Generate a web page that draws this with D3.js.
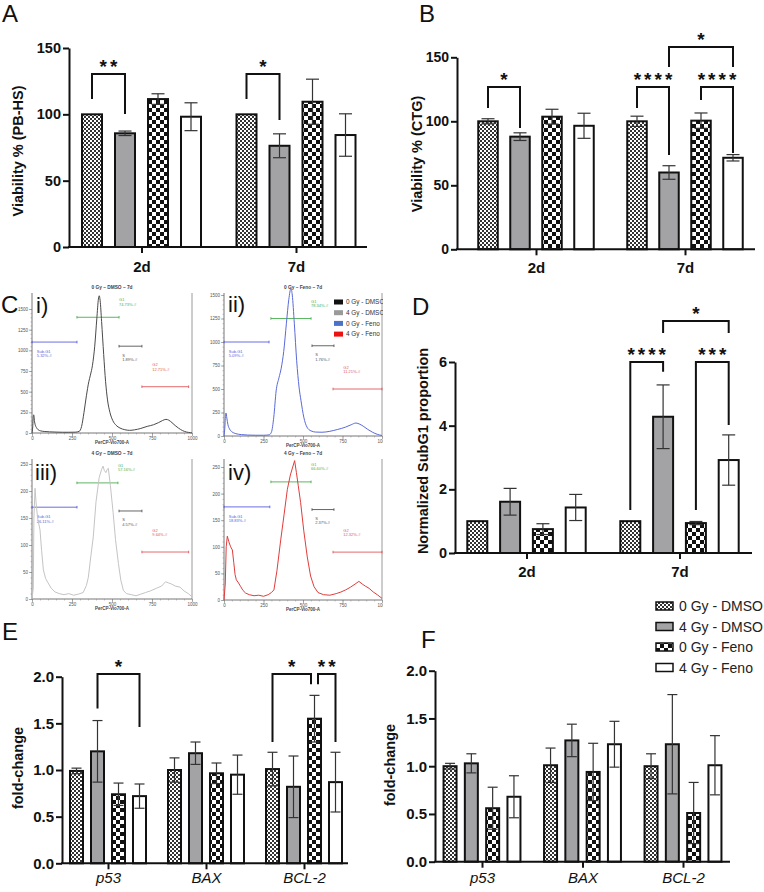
<!DOCTYPE html>
<html>
<head>
<meta charset="utf-8">
<script src="https://cdn.jsdelivr.net/npm/d3@7"></script>
<style>
  body { margin: 0; background: #fff; }
  svg { display: block; }
  text { font-family: "Liberation Sans", Arial, sans-serif; }
</style>
</head>
<body>
<svg id="fig" width="764" height="892"></svg>
<script>
// ---- data ----
const series = ["0 Gy - DMSO", "4 Gy - DMSO", "0 Gy - Feno", "4 Gy - Feno"];
const days = ["2d", "7d"];
const genes = ["p53", "BAX", "BCL-2"];

const pbhsMean = [[100, 85.7, 111.5, 98.2], [100, 76.3, 109.5, 84.4]];
const pbhsSem = [[0, 1.7, 4, 10.5], [0, 9, 17, 16]];
const ctgMean = [[100, 88, 103.6, 96.5], [100, 60, 100.5, 71.5]];
const ctgSem = [[2, 3, 5.8, 9.8], [4, 5.3, 6, 2.5]];
const subG1Mean = [[1, 1.61, 0.75, 1.43], [1, 4.28, 0.94, 2.92]];
const subG1Sem = [[0, 0.42, 0.17, 0.41], [0, 1.0, 0.05, 0.79]];
const foldEMean = [[0.99, 1.2, 0.74, 0.72], [1.0, 1.18, 0.965, 0.95], [1.01, 0.82, 1.55, 0.87]];
const foldESem = [[0.03, 0.33, 0.12, 0.13], [0.13, 0.12, 0.11, 0.21], [0.18, 0.33, 0.25, 0.32]];
const foldFMean = [[1.0, 1.03, 0.56, 0.68], [1.01, 1.27, 0.94, 1.23], [1.0, 1.23, 0.51, 1.01]];
const foldFSem = [[0.03, 0.1, 0.22, 0.22], [0.18, 0.17, 0.3, 0.24], [0.13, 0.52, 0.32, 0.31]];

const viabTicks = [0, 50, 100, 150];
const subG1Ticks = [0, 2, 4, 6];
const foldTicks = [0, 0.5, 1, 1.5, 2];

// significance: [category, bar from, bar to, top, left leg end, right leg end, stars]
const pbhsSig = [[0, 0, 1, 130.4, 111.5, 100.2, "**"], [1, 0, 1, 130.4, 111.5, 95.7, "*"]];
const ctgSig = [[0, 0, 1, 126.8, 110.4, 94.8, "*"], [1, 0, 1, 126.8, 110.4, 73.7, "****"],
                [1, 2, 3, 126.8, 116.6, 75.2, "****"], [1, 1, 3, 158, 142.4, 142.4, "*"]];
const subG1Sig = [[1, 0, 1, 6.0, 1.35, 5.69, "****"], [1, 2, 3, 6.0, 1.35, 4.02, "***"],
                  [1, 1, 3, 7.29, 6.91, 6.91, "*"]];
const foldESig = [[0, 1, 3, 2.03, 1.66, 1.46, "*"], [2, 0, 2, 2.03, 1.3, 1.92, "*"],
                  [2, 2, 3, 2.03, 1.92, 1.3, "**"]];

// flow cytometry histograms: [channel, count]
const histI = [[0,0],[4,60],[8,200],[11,220],[15,150],[20,100],[28,65],[38,40],[55,25],[80,18],[110,14],[150,11],[190,9],[230,9],[270,10],[295,20],[310,80],[325,250],[340,450],[355,620],[365,700],[378,820],[392,1050],[405,1380],[415,1620],[420,1660],[426,1600],[435,1350],[448,950],[460,620],[472,400],[487,250],[505,150],[525,95],[550,60],[580,40],[610,32],[640,38],[680,55],[720,80],[760,100],[790,125],[815,150],[837,165],[855,155],[875,125],[895,90],[915,60],[940,30],[965,12],[990,4],[1000,0]];
const histII = [[0,0],[5,80],[10,230],[13,245],[18,190],[25,120],[35,75],[50,45],[75,25],[110,15],[150,10],[200,8],[250,8],[285,12],[300,40],[315,200],[330,480],[348,620],[362,720],[378,900],[395,1200],[410,1450],[424,1570],[432,1500],[445,1200],[460,800],[475,520],[487,380],[505,200],[525,95],[550,55],[580,42],[620,40],[670,50],[720,70],[770,95],[805,120],[835,138],[860,125],[885,100],[910,70],[940,40],[970,18],[1000,5]];
const histIII = [[0,0],[8,20],[12,150],[19,205],[25,180],[35,150],[50,128],[60,90],[71,54],[85,38],[100,30],[120,20],[144,13],[170,10],[200,8],[230,10],[260,7],[290,9],[320,12],[340,25],[352,40],[368,80],[383,115],[400,180],[420,225],[435,240],[444,246],[452,238],[462,234],[470,240],[477,242],[490,210],[507,160],[522,110],[540,66],[555,35],[571,16],[590,10],[620,8],[650,6],[680,9],[710,12],[740,15],[779,20],[810,24],[835,32],[851,30],[870,28],[895,24],[925,22],[950,15],[977,10],[1000,4]];
const histIV = [[0,0],[8,30],[14,100],[21,120],[30,110],[42,100],[53,94],[62,70],[70,48],[78,38],[92,32],[106,25],[120,18],[137,13],[160,10],[190,8],[220,9],[250,7],[280,10],[300,14],[316,19],[335,55],[359,113],[380,160],[401,208],[420,235],[435,250],[447,262],[458,240],[470,215],[485,183],[505,130],[527,81],[548,45],[570,25],[595,14],[630,10],[670,9],[710,12],[740,15],[770,19],[800,24],[830,30],[854,35],[875,30],[895,26],[918,22],[945,15],[970,10],[1000,3]];

// gates: [name, percent, from, to, level]
const gatesI = [["Sub-G1", "5.32%-#", 0, 281, 1100], ["G1", "74.73%-#", 281, 544, 1400], ["S", "1.89%-#", 544, 687, 1050], ["G2", "12.71%-#", 687, 979, 560]];
const gatesII = [["Sub-G1", "5.09%-#", 0, 285, 1000], ["G1", "78.34%-#", 297, 551, 1250], ["S", "1.76%-#", 557, 696, 960], ["G2", "11.21%-#", 690, 1000, 500]];
const gatesIII = [["Sub-G1", "26.11%-#", 0, 281, 170], ["G1", "57.16%-#", 281, 537, 215], ["S", "4.57%-#", 544, 687, 163], ["G2", "9.64%-#", 687, 979, 87]];
const gatesIV = [["Sub-G1", "18.83%-#", 0, 290, 175], ["G1", "66.60%-#", 297, 551, 222], ["S", "2.37%-#", 557, 696, 170], ["G2", "12.32%-#", 690, 1000, 90]];
const histLegend = ["0 Gy - DMSO", "4 Gy - DMSO", "0 Gy - Feno", "4 Gy - Feno"];

// ---- setup ----
const svg = d3.select("#fig");
svg.append("rect").attr("width", 764).attr("height", 892).attr("fill", "#fff");
const defs = svg.append("defs");

const fine = defs.append("pattern").attr("id", "fine").attr("patternUnits", "userSpaceOnUse").attr("width", 4).attr("height", 4);
fine.append("rect").attr("width", 4).attr("height", 4).attr("fill", "#fff");
fine.append("rect").attr("width", 2).attr("height", 2).attr("fill", "#333");
fine.append("rect").attr("x", 2).attr("y", 2).attr("width", 2).attr("height", 2).attr("fill", "#333");
const big = defs.append("pattern").attr("id", "big").attr("patternUnits", "userSpaceOnUse").attr("width", 8).attr("height", 8);
big.append("rect").attr("width", 8).attr("height", 8).attr("fill", "#fff");
big.append("rect").attr("width", 4).attr("height", 4).attr("fill", "#111");
big.append("rect").attr("x", 4).attr("y", 4).attr("width", 4).attr("height", 4).attr("fill", "#111");
defs.append("clipPath").attr("id", "clipC").append("rect").attr("x", 0).attr("y", 282).attr("width", 383).attr("height", 330);

const fills = ["url(#fine)", "#a3a3a6", "url(#big)", "#fff"];

function drawBars(p) {
  const g = svg.append("g");
  const x = d3.scalePoint().domain(p.cats).range([p.c0, p.c1]);
  const pad = 1 - p.barW / p.step;
  const sub = d3.scaleBand().domain(d3.range(series.length)).range([-2 * p.step, 2 * p.step])
    .paddingInner(pad).paddingOuter(pad / 2);
  const y = d3.scaleLinear().domain([0, p.max]).range([p.y0, p.y1]);
  const rows = p.cats.flatMap((c, i) => p.mean[i].map((v, j) => ({ c, i, j, v, e: p.sem[i][j] })));
  const cx = d => x(d.c) + sub(d.j) + sub.bandwidth() / 2;

  g.selectAll(".bar").data(rows).join("rect").attr("class", "bar")
    .attr("x", d => x(d.c) + sub(d.j)).attr("y", d => y(d.v))
    .attr("width", sub.bandwidth()).attr("height", d => y(0) - y(d.v))
    .attr("fill", d => fills[d.j]).attr("stroke", "#111").attr("stroke-width", 2);

  const err = g.selectAll(".err").data(rows.filter(d => d.e > 0)).join("g").attr("class", "err")
    .attr("stroke", "#333").attr("stroke-width", 1.2);
  err.append("line").attr("x1", cx).attr("x2", cx).attr("y1", d => y(d.v - d.e)).attr("y2", d => y(d.v + d.e));
  err.append("line").attr("x1", d => cx(d) - p.cap / 2).attr("x2", d => cx(d) + p.cap / 2)
    .attr("y1", d => y(d.v + d.e)).attr("y2", d => y(d.v + d.e));
  err.append("line").attr("x1", d => cx(d) - p.cap / 2).attr("x2", d => cx(d) + p.cap / 2)
    .attr("y1", d => y(d.v - d.e)).attr("y2", d => y(d.v - d.e));

  // y axis
  const ya = g.append("g").attr("transform", `translate(${p.x0},0)`)
    .call(d3.axisLeft(y).tickValues(p.ticks).tickSize(6).tickSizeOuter(0).tickFormat(p.fmt));
  ya.attr("font-family", null).attr("font-size", null);
  ya.select(".domain").attr("stroke", "#111").attr("stroke-width", 2);
  ya.selectAll(".tick line").attr("stroke", "#111").attr("stroke-width", 2);
  ya.selectAll(".tick text").attr("x", -8).attr("font-size", p.tickFs).attr("font-weight", "bold").attr("fill", "#111");

  // x axis
  g.append("line").attr("x1", p.x0 - 1).attr("x2", p.xEnd).attr("y1", y(0)).attr("y2", y(0))
    .attr("stroke", "#111").attr("stroke-width", 2);
  const xa = g.append("g").attr("transform", `translate(0,${y(0)})`)
    .call(d3.axisBottom(x).tickSize(6).tickSizeOuter(0));
  xa.attr("font-family", null).attr("font-size", null);
  xa.select(".domain").remove();
  xa.selectAll(".tick line").attr("stroke", "#111").attr("stroke-width", 2);
  xa.selectAll(".tick text").attr("y", p.catDy).attr("dy", null).attr("font-size", p.catFs)
    .attr("font-weight", p.italic ? "normal" : "bold").attr("font-style", p.italic ? "italic" : "normal")
    .attr("fill", "#111");

  // y title
  g.append("text").attr("transform", `translate(${p.titleX},${p.titleY}) rotate(-90)`)
    .attr("text-anchor", "middle").attr("dominant-baseline", "central")
    .attr("font-size", 14.5).attr("font-weight", "bold").attr("fill", "#111").text(p.title);

  // brackets
  (p.sig || []).forEach(s => {
    const [ci, a, b, top, l, r, lab] = s;
    let xa1 = x(p.cats[ci]) + sub(a) + sub.bandwidth() / 2;
    let xb1 = x(p.cats[ci]) + sub(b) + sub.bandwidth() / 2;
    if (p.sig.some(o => o !== s && o[0] === ci && o[3] === top && o[1] === b)) xb1 -= 3.5;
    if (p.sig.some(o => o !== s && o[0] === ci && o[3] === top && o[2] === a)) xa1 += 3.5;
    g.append("path").attr("d", `M${xa1},${y(l)}V${y(top)}H${xb1}V${y(r)}`)
      .attr("fill", "none").attr("stroke", "#111").attr("stroke-width", 2);
    g.append("text").attr("x", (xa1 + xb1) / 2 + 1.5).attr("y", y(top) - 1)
      .attr("text-anchor", "middle").attr("font-size", 19).attr("font-weight", "bold")
      .attr("letter-spacing", 3).attr("fill", "#111").text(lab);
  });
}

function drawHist(h) {
  const g = svg.append("g").attr("clip-path", "url(#clipC)");
  const x = d3.scaleLinear().domain([0, 1000]).range([h.x0, h.x1]);
  const y = d3.scaleLinear().domain([0, h.max]).range([h.y0, h.y1]);

  g.append("line").attr("x1", h.x1).attr("x2", h.x1).attr("y1", h.top).attr("y2", h.y0).attr("stroke", "#9a9a9a");
  g.append("line").attr("x1", h.x0).attr("x2", h.x0).attr("y1", h.top).attr("y2", h.y0).attr("stroke", "#777");
  g.append("line").attr("x1", h.x0).attr("x2", h.x1).attr("y1", h.y0).attr("y2", h.y0).attr("stroke", "#777");

  const ym = g.append("g").attr("transform", `translate(${h.x0},0)`)
    .call(d3.axisLeft(y).ticks(h.max / h.minor).tickSize(1.5).tickFormat(""));
  ym.select(".domain").remove();
  ym.selectAll("line").attr("stroke", "#888").attr("stroke-width", 0.5);
  const ya = g.append("g").attr("transform", `translate(${h.x0},0)`)
    .call(d3.axisLeft(y).tickValues(h.ticks).tickSize(3).tickPadding(1).tickFormat(d3.format("d")));
  ya.attr("font-family", null).attr("font-size", null);
  ya.select(".domain").remove();
  ya.selectAll("line").attr("stroke", "#777").attr("stroke-width", 0.6);
  ya.selectAll("text").attr("font-size", 4.5).attr("fill", "#555");

  const xm = g.append("g").attr("transform", `translate(0,${h.y0})`)
    .call(d3.axisBottom(x).ticks(20).tickSize(1.5).tickFormat(""));
  xm.select(".domain").remove();
  xm.selectAll("line").attr("stroke", "#888").attr("stroke-width", 0.5);
  const xa = g.append("g").attr("transform", `translate(0,${h.y0})`)
    .call(d3.axisBottom(x).tickValues([0, 250, 500, 750, 1000]).tickSize(3).tickPadding(1).tickFormat(d3.format("d")));
  xa.attr("font-family", null).attr("font-size", null);
  xa.select(".domain").remove();
  xa.selectAll("line").attr("stroke", "#777").attr("stroke-width", 0.6);
  xa.selectAll("text").attr("font-size", 4.5).attr("fill", "#555");
  g.append("text").attr("x", (h.x0 + h.x1) / 2).attr("y", h.y0 + 11).attr("text-anchor", "middle")
    .attr("font-size", 4.5).attr("font-weight", "bold").attr("fill", "#444").text("PerCP-Vio700-A");
  g.append("text").attr("x", (h.x0 + h.x1) / 2).attr("y", h.top - 4).attr("text-anchor", "middle")
    .attr("font-size", 4.8).attr("font-weight", "bold").attr("fill", "#444").text(h.name);

  const gateCol = { "Sub-G1": "#5c5ce0", "G1": "#4caf50", "S": "#555", "G2": "#e05a5a" };
  const labelAt = { "Sub-G1": [30, 11], "G1": [0, -16], "S": [20, 10.5], "G2": [65, -20.5] };
  h.gates.forEach(([name, pct, a, b, lvl]) => {
    const yy = y(lvl), col = gateCol[name];
    g.append("path").attr("d", `M${x(a)},${yy}H${x(b)}M${x(a)},${yy - 1.3}v2.6M${x(b)},${yy - 1.3}v2.6`)
      .attr("stroke", col).attr("stroke-width", 0.9).attr("fill", "none");
    const lx = name === "G1" ? x(b) : x(a + labelAt[name][0]);
    const t = g.append("text").attr("x", lx).attr("y", yy + labelAt[name][1])
      .attr("font-size", 4).attr("fill", col);
    t.append("tspan").text(name);
    t.append("tspan").attr("x", lx).attr("dy", 4.3).text(pct);
  });

  g.append("path").datum(h.data)
    .attr("d", d3.line().x(d => x(d[0])).y(d => y(d[1])).curve(h.curve))
    .attr("fill", "none").attr("stroke", h.color).attr("stroke-width", 1);

  g.append("text").attr("x", h.romanX).attr("y", h.romanY).attr("font-family", "'Open Sans', sans-serif")
    .attr("font-size", 22).attr("fill", "#111").text(h.roman);
}

// ---- panels ----
drawBars({ cats: days, mean: pbhsMean, sem: pbhsSem, sig: pbhsSig, ticks: viabTicks, fmt: d3.format("d"),
  max: 150, y0: 247, y1: 48, x0: 69, xEnd: 367, c0: 141.5, c1: 296, step: 33, barW: 20, cap: 13,
  tickFs: 14.5, catFs: 15, catDy: 25, title: "Viability % (PB-HS)", titleX: 18, titleY: 151 });

drawBars({ cats: days, mean: ctgMean, sem: ctgSem, sig: ctgSig, ticks: viabTicks, fmt: d3.format("d"),
  max: 150, y0: 249.3, y1: 57.3, x0: 457, xEnd: 755, c0: 536, c1: 685, step: 32, barW: 19.5, cap: 13,
  tickFs: 14, catFs: 15, catDy: 24, title: "Viability % (CTG)", titleX: 417, titleY: 154 });

drawBars({ cats: days, mean: subG1Mean, sem: subG1Sem, sig: subG1Sig, ticks: subG1Ticks, fmt: d3.format("d"),
  max: 6, y0: 553, y1: 362, x0: 455, xEnd: 752, c0: 526.5, c1: 679.5, step: 32.8, barW: 20, cap: 13,
  tickFs: 14.5, catFs: 15, catDy: 24, title: "Normalized SubG1 proportion", titleX: 423, titleY: 451 });

drawBars({ cats: genes, mean: foldEMean, sem: foldESem, sig: foldESig, ticks: foldTicks, fmt: d3.format(".1f"),
  max: 2, y0: 863.3, y1: 676.7, x0: 62, xEnd: 348, c0: 108, c1: 304, step: 21, barW: 13, cap: 10,
  tickFs: 15, catFs: 15, catDy: 20, italic: true, title: "fold-change", titleX: 18, titleY: 768 });

drawBars({ cats: genes, mean: foldFMean, sem: foldFSem, sig: [], ticks: foldTicks, fmt: d3.format(".1f"),
  max: 2, y0: 861.7, y1: 670.7, x0: 435, xEnd: 730, c0: 482, c1: 683, step: 21.3, barW: 13, cap: 10,
  tickFs: 15, catFs: 15, catDy: 21, italic: true, title: "fold-change", titleX: 390, titleY: 765 });

drawHist({ data: histI, gates: gatesI, name: "0 Gy \u2013 DMSO \u2013 7d", color: "#4a4a4a", curve: d3.curveMonotoneX,
  x0: 32, x1: 192, y0: 433, y1: 309, max: 1500, ticks: [0, 250, 500, 750, 1000, 1250, 1500], minor: 50,
  top: 293, roman: "i)", romanX: 36, romanY: 313 });
drawHist({ data: histII, gates: gatesII, name: "0 Gy \u2013 Feno \u2013 7d", color: "#5a6ad8", curve: d3.curveMonotoneX,
  x0: 224, x1: 382, y0: 436, y1: 295, max: 1500, ticks: [0, 250, 500, 750, 1000, 1250, 1500], minor: 50,
  top: 293, roman: "ii)", romanX: 228, romanY: 312 });
drawHist({ data: histIII, gates: gatesIII, name: "4 Gy \u2013 DMSO \u2013 7d", color: "#c4c4c4", curve: d3.curveLinear,
  x0: 32, x1: 192, y0: 599, y1: 464, max: 250, ticks: [0, 50, 100, 150, 200, 250], minor: 10,
  top: 459, roman: "iii)", romanX: 35, romanY: 480 });
drawHist({ data: histIV, gates: gatesIV, name: "4 Gy \u2013 Feno \u2013 7d", color: "#e23c3c", curve: d3.curveLinear,
  x0: 224, x1: 382, y0: 600, y1: 467, max: 250, ticks: [0, 50, 100, 150, 200, 250], minor: 10,
  top: 459, roman: "iv)", romanX: 228, romanY: 480 });

// histogram legend (panel ii)
const hlCol = ["#111", "#9a9a9a", "#4a72c8", "#ee1111"];
const hl = svg.append("g").attr("clip-path", "url(#clipC)");
histLegend.forEach((name, i) => {
  const yy = 302 + i * 10.7;
  hl.append("rect").attr("x", 334).attr("y", yy - 2.5).attr("width", 9).attr("height", 5).attr("fill", hlCol[i]);
  hl.append("text").attr("x", 346).attr("y", yy + 2.3).attr("font-size", 6.4).attr("fill", "#333").text(name);
});

// main legend
const lg = svg.append("g");
series.forEach((name, i) => {
  const yy = 606 + i * 20.5;
  lg.append("rect").attr("x", 656).attr("y", yy - 4).attr("width", 17).attr("height", 8)
    .attr("fill", fills[i]).attr("stroke", "#111").attr("stroke-width", 1.5);
  lg.append("text").attr("x", 679).attr("y", yy + 5).attr("font-size", 14).attr("fill", "#222").text(name);
});

// panel letters
const letters = [["A", 2, 22], ["B", 419, 22], ["C", 1, 313], ["D", 412, 315], ["E", 2, 640], ["F", 421, 648]];
svg.selectAll(".letter").data(letters).join("text").attr("class", "letter")
  .attr("x", d => d[1]).attr("y", d => d[2])
  .attr("font-family", "'Open Sans', sans-serif").attr("font-size", 24).attr("fill", "#111")
  .text(d => d[0]);
</script>
</body>
</html>
